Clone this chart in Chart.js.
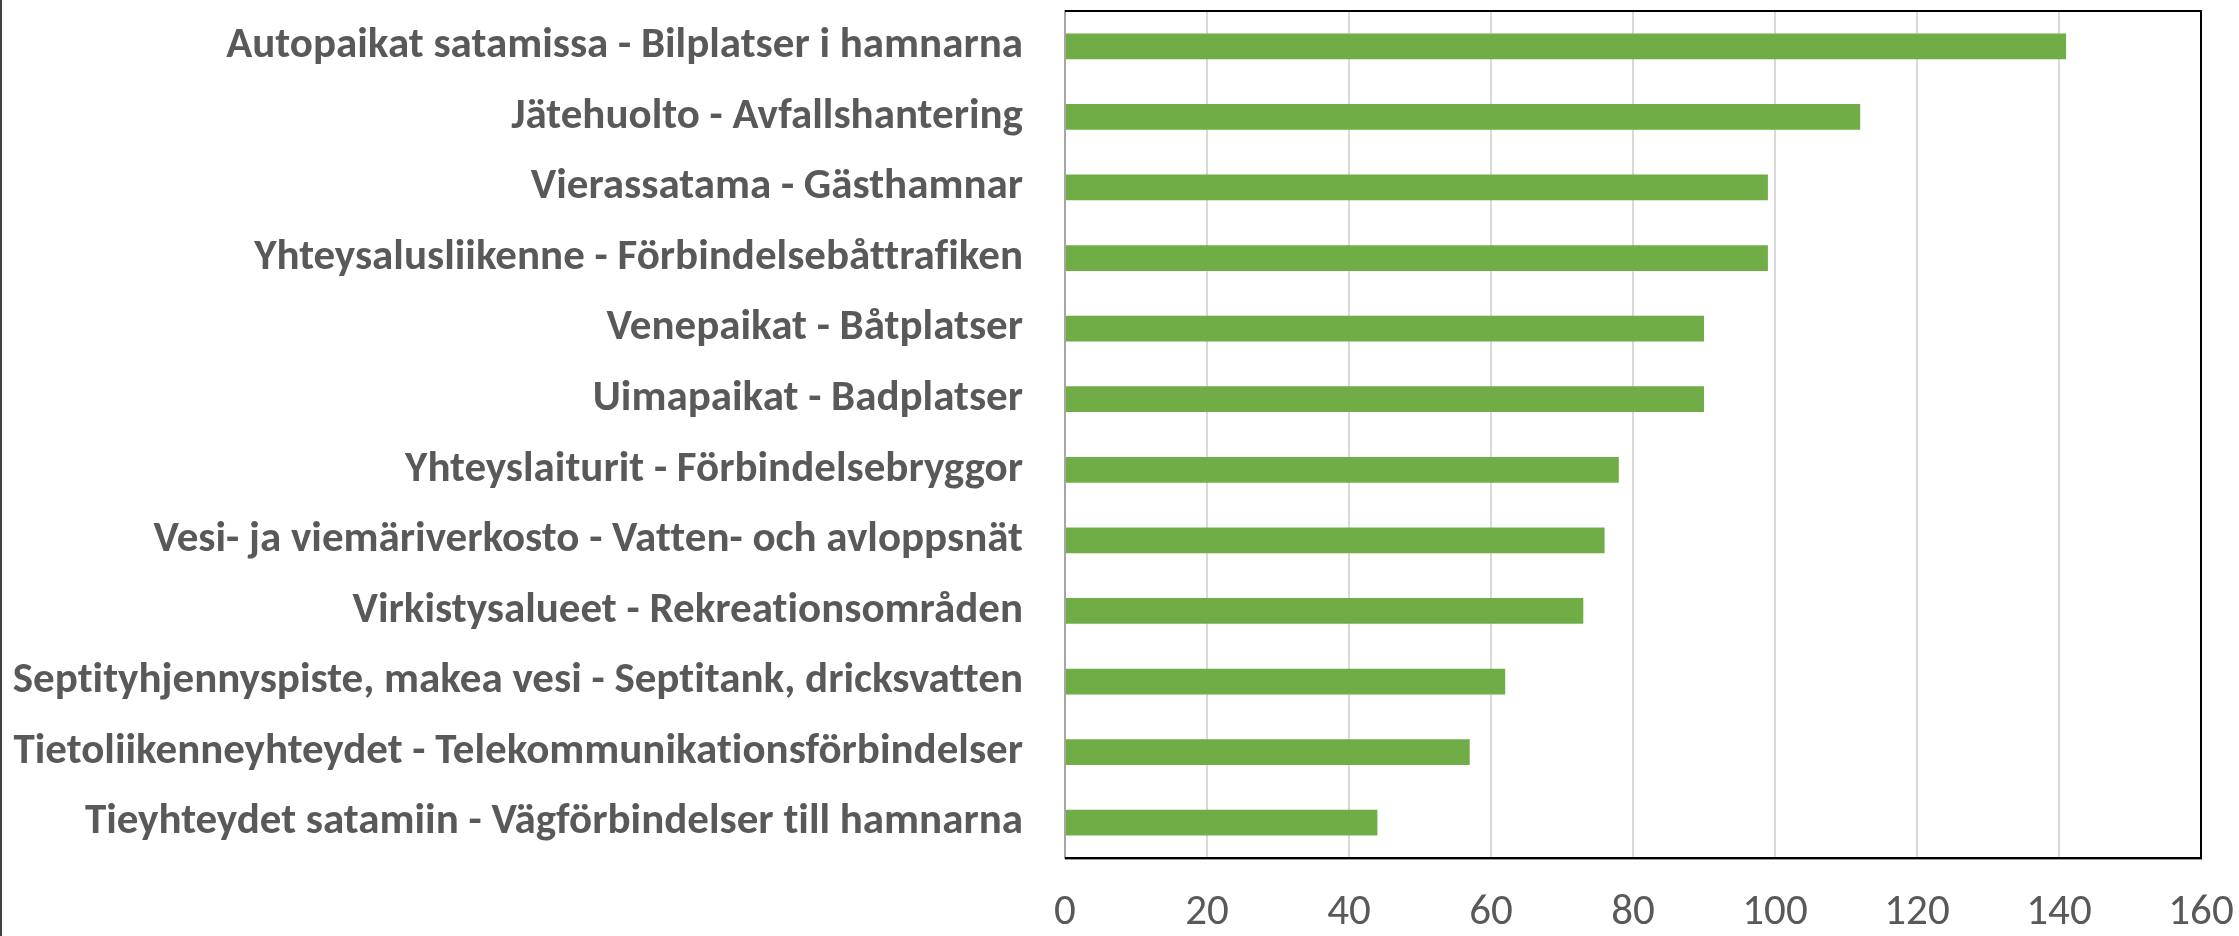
<!DOCTYPE html>
<html><head><meta charset="utf-8">
<script src="https://cdn.jsdelivr.net/npm/chart.js@4"></script>
<style>html,body{margin:0;padding:0;background:#fff}#wrap{width:2239px;height:936px;position:relative}</style>
</head><body><div id="wrap"><canvas id="c" width="2239" height="936"></canvas></div>
<script>
const categories = [
  "Autopaikat satamissa - Bilplatser i hamnarna",
  "Jätehuolto - Avfallshantering",
  "Vierassatama - Gästhamnar",
  "Yhteysalusliikenne - Förbindelsebåttrafiken",
  "Venepaikat - Båtplatser",
  "Uimapaikat - Badplatser",
  "Yhteyslaiturit - Förbindelsebryggor",
  "Vesi- ja viemäriverkosto - Vatten- och avloppsnät",
  "Virkistysalueet - Rekreationsområden",
  "Septityhjennyspiste, makea vesi - Septitank, dricksvatten",
  "Tietoliikenneyhteydet - Telekommunikationsförbindelser",
  "Tieyhteydet satamiin - Vägförbindelser till hamnarna"
];
const values = [141, 112, 99, 99, 90, 90, 78, 76, 73, 62, 57, 44];
const xTicks = [0, 20, 40, 60, 80, 100, 120, 140, 160];

const FONT = "Carlito, Calibri, 'Open Sans', sans-serif";
const TEXT = "#595959";

const framePlugin = {
  id: 'frame',
  beforeDraw(chart) {
    try { chart.ctx.letterSpacing = '0.01px'; } catch (e) {}
  },
  afterDraw(chart) {
    const {ctx, chartArea: a} = chart;
    ctx.save();
    ctx.fillStyle = '#3f3f3f';
    ctx.fillRect(0, 0, 2, chart.height);
    ctx.fillStyle = '#000';
    ctx.fillRect(a.left, a.top - 1, a.right - a.left + 1, 2);
    ctx.fillRect(a.right - 1, a.top - 1, 2, a.bottom - a.top + 2);
    ctx.fillRect(a.left, a.bottom - 1, a.right - a.left + 1, 2);
    ctx.fillStyle = '#9a9a9a';
    ctx.fillRect(a.left, a.bottom + 1, a.right - a.left + 1, 1);
    ctx.restore();
  }
};

function zeroPad(s) { s.paddingTop = 0; s.paddingBottom = 0; s.paddingLeft = 0; s.paddingRight = 0; }

new Chart(document.getElementById('c'), {
  type: 'bar',
  data: {
    labels: categories,
    datasets: [{
      data: values,
      backgroundColor: '#70AD47',
      borderWidth: 0,
      barPercentage: 0.364,
      categoryPercentage: 1.0
    }]
  },
  options: {
    indexAxis: 'y',
    responsive: false,
    animation: false,
    layout: { padding: { top: 11, right: 38, bottom: 0, left: 0 } },
    plugins: { legend: { display: false }, tooltip: { enabled: false } },
    scales: {
      x: {
        min: 0, max: 160,
        afterBuildTicks: (s) => { s.ticks = xTicks.map(v => ({value: v})); },
        afterFit: (s) => { s.height = 78; zeroPad(s); },
        grid: { color: '#D9D9D9', lineWidth: 2, drawTicks: false },
        border: { display: false },
        ticks: { color: TEXT, font: { family: FONT, size: 43 }, padding: 29, maxRotation: 0 }
      },
      y: {
        afterFit: (s) => { s.width = 1065; zeroPad(s); },
        grid: { display: false, drawTicks: false },
        border: { display: true, color: '#A6A6A6', width: 2 },
        ticks: { color: TEXT, font: { family: FONT, size: 43, weight: 'bold' }, padding: 42, autoSkip: false }
      }
    }
  },
  plugins: [framePlugin]
});
</script></body></html>
